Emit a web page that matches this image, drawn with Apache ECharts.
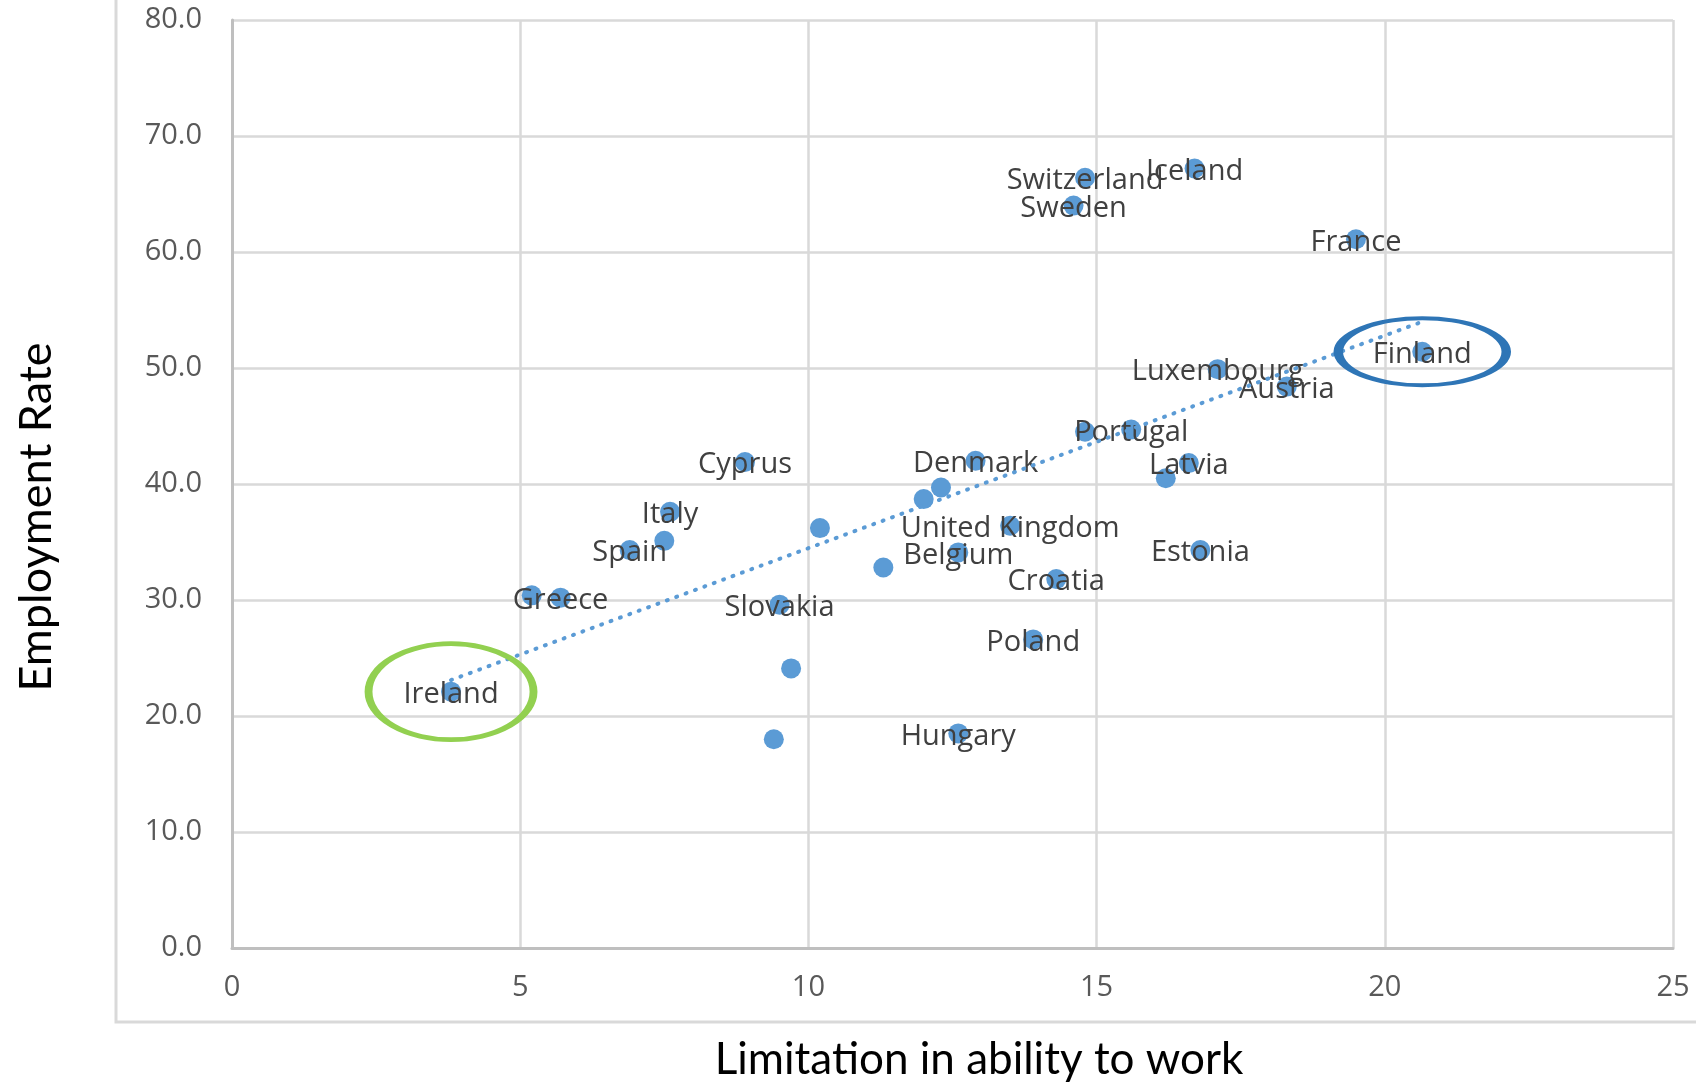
<!DOCTYPE html>
<html><head><meta charset="utf-8">
<script src="https://cdn.jsdelivr.net/npm/echarts@6/dist/echarts.min.js"></script>
<style>html,body{margin:0;padding:0;background:#fff}#c{width:1696px;height:1084px}</style>
</head><body><div id="c"></div>
<script>
// ---- data ----
const countries = ['Ireland','','Greece','Spain','','Italy','Cyprus','Slovakia','','','','','','',
  'Denmark','Belgium','Hungary','United Kingdom','Poland','Croatia','Sweden','Switzerland','',
  'Portugal','','Latvia','Iceland','Estonia','Luxembourg','Austria','France','Finland'];
const limitation = [3.8,5.2,5.7,6.9,7.5,7.6,8.9,9.5,9.7,9.4,10.2,11.3,12.0,12.3,
  12.9,12.6,12.6,13.5,13.9,14.3,14.6,14.8,14.8,
  15.6,16.2,16.6,16.7,16.8,17.1,18.3,19.5,20.65];
const employment = [22.1,30.4,30.2,34.3,35.1,37.6,41.9,29.6,24.1,18.0,36.2,32.8,38.7,39.7,
  42.0,34.1,18.5,36.4,26.6,31.8,64.0,66.4,44.5,
  44.7,40.5,41.8,67.2,34.3,49.9,48.4,61.1,51.4];
const trendX = [3.8, 20.6];
const trendY = [23.1, 53.9];
const highlightLow = 'Ireland';
const highlightHigh = 'Finland';
const xAxisTitle = 'Limitation in ability to work';
const yAxisTitle = 'Employment Rate';

const points = countries.map((n, i) => ({ name: n, value: [limitation[i], employment[i]] }));
const trend = trendX.map((x, i) => [x, trendY[i]]);
const idxLow = countries.indexOf(highlightLow);
const idxHigh = countries.indexOf(highlightHigh);
const ellipsePath = 'path://M0,50A50,50,0,1,1,100,50A50,50,0,1,1,0,50Z';

const chart = echarts.init(document.getElementById('c'), null, { renderer: 'canvas' });
chart.setOption({
  animation: false,
  backgroundColor: '#fff',
  grid: { left: 232, right: 23, top: 20, bottom: 136, containLabel: false },
  xAxis: {
    type: 'value', min: 0, max: 25, interval: 5,
    axisLine: { show: true, onZero: false, lineStyle: { color: '#bfbfbf', width: 3 } },
    axisTick: { show: false },
    axisLabel: { color: '#595959', fontFamily: 'Open Sans', fontSize: 29, margin: 25 },
    splitLine: { show: true, lineStyle: { color: '#d9d9d9', width: 2.5 } }
  },
  yAxis: {
    type: 'value', min: 0, max: 80, interval: 10,
    axisLine: { show: true, onZero: false, lineStyle: { color: '#bfbfbf', width: 3 } },
    axisTick: { show: false },
    axisLabel: { color: '#595959', fontFamily: 'Open Sans', fontSize: 29, margin: 30,
      formatter: v => v.toFixed(1) },
    splitLine: { show: true, lineStyle: { color: '#d9d9d9', width: 2.5 } }
  },
  graphic: [
    { type: 'rect', z: -10, silent: true,
      shape: { x: 116, y: -20, width: 1700, height: 1042 },
      style: { fill: 'none', stroke: '#d9d9d9', lineWidth: 3 } },
    { type: 'text', x: 979, y: 1060, silent: true,
      style: { text: xAxisTitle, fill: '#000', font: '44px Lato', align: 'center', verticalAlign: 'middle' } },
    { type: 'text', x: 36, y: 517, rotation: Math.PI / 2, silent: true,
      style: { text: yAxisTitle, fill: '#000', font: '45px Lato', align: 'center', verticalAlign: 'middle' } }
  ],
  series: [
    {
      type: 'line', data: trend, symbol: 'none', z: 3, silent: true,
      lineStyle: { color: '#5b9bd5', width: 4, type: [1, 9], cap: 'round' }
    },
    {
      type: 'scatter', data: points, symbol: 'circle', symbolSize: 20, z: 2,
      itemStyle: { color: '#5b9bd5', opacity: 1 },
      label: { show: true, position: 'inside', offset: [0, 3], formatter: p => p.name,
        color: '#404040', fontFamily: 'Open Sans', fontSize: 29 },
      markPoint: {
        silent: true,
        label: { show: false },
        data: [
          { coord: points[idxLow].value, symbol: ellipsePath, symbolSize: [165, 96],
            itemStyle: { color: 'rgba(0,0,0,0)', borderColor: '#92d050', borderWidth: 6 } },
          { coord: points[idxHigh].value, symbol: ellipsePath, symbolSize: [168, 67],
            itemStyle: { color: 'rgba(0,0,0,0)', borderColor: '#2e75b6', borderWidth: 6 } }
        ]
      }
    }
  ]
});
</script>
</body></html>
